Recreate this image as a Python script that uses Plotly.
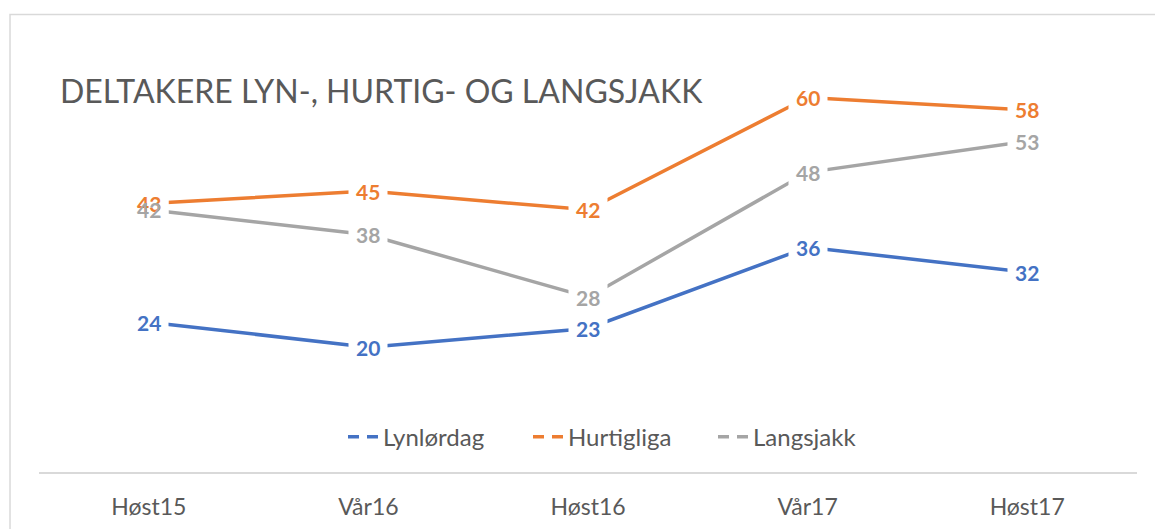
import plotly.graph_objects as go

# ── Données ──────────────────────────────────────────────────────────────────
SEMESTRE = ["Høst15", "Vår16", "Høst16", "Vår17", "Høst17"]
LYNLORDAG = [24, 20, 23, 36, 32]
HURTIGLIGA = [43, 45, 42, 60, 58]
LANGSJAKK = [42, 38, 28, 48, 53]

SERIES = [
    ("Lynlørdag", LYNLORDAG, "#4472C4"),
    ("Hurtigliga", HURTIGLIGA, "#ED7D31"),
    ("Langsjakk", LANGSJAKK, "#A5A5A5"),
]

FONT = "Lato, 'Open Sans', sans-serif"
TEXT_GREY = "#595959"

fig = go.Figure()

# lignes (solides)
for name, values, color in SERIES:
    fig.add_trace(go.Scatter(
        x=SEMESTRE, y=values, mode="lines", name=name,
        line=dict(color=color, width=3.5),
        showlegend=False, hoverinfo="x+y+name",
    ))

# étiquettes : d'abord les caches blancs, puis les textes (qui peuvent se chevaucher)
for name, values, color in SERIES:
    for cat, v in zip(SEMESTRE, values):
        fig.add_annotation(
            x=cat, y=v, text="&nbsp;", showarrow=False,
            width=26, height=22, borderpad=6, bgcolor="white",
            font=dict(family=FONT, size=21),
        )
for name, values, color in SERIES:
    for cat, v in zip(SEMESTRE, values):
        fig.add_annotation(
            x=cat, y=v, text=f"<b>{v}</b>", showarrow=False,
            font=dict(family=FONT, size=21, color=color),
        )

# entrées de légende en tirets (comme Excel)
for name, values, color in SERIES:
    fig.add_trace(go.Scatter(
        x=[None], y=[None], mode="lines", name=name,
        line=dict(color=color, width=3.5, dash="11px,8px"),
    ))

# titre
fig.add_annotation(
    text="DELTAKERE LYN-, HURTIG- OG LANGSJAKK",
    xref="paper", yref="paper", x=0.0173, y=0.873,
    xanchor="left", yanchor="middle", showarrow=False,
    font=dict(family=FONT, size=32, color=TEXT_GREY),
)

# cadre du graphique
fig.add_shape(
    type="rect", xref="paper", yref="paper",
    x0=-0.0264, x1=1.03, y0=-0.2, y1=1.0469,
    line=dict(color="#D9D9D9", width=1.5), layer="below",
)

fig.update_layout(
    width=1155, height=529,
    margin=dict(l=39, r=18, t=34.5, b=57),
    paper_bgcolor="white", plot_bgcolor="white",
    font=dict(family=FONT, color=TEXT_GREY),
    legend=dict(
        orientation="h", x=0.5296, xanchor="center", y=0.08, yanchor="middle",
        font=dict(size=24, color=TEXT_GREY),
        entrywidth=140, entrywidthmode="pixels",
        bgcolor="rgba(0,0,0,0)",
    ),
)
fig.update_xaxes(
    range=[-0.5, 4.5], automargin=False,
    showgrid=False, showline=True, linecolor="#D9D9D9", linewidth=1.5,
    ticks="", tickfont=dict(size=23, color=TEXT_GREY), ticklabelstandoff=14,
)
fig.update_yaxes(range=[0, 70], visible=False, automargin=False)

fig.write_html(
    "out.html",
    config={"displayModeBar": False},
    post_script="document.body.style.margin='0';",
)
